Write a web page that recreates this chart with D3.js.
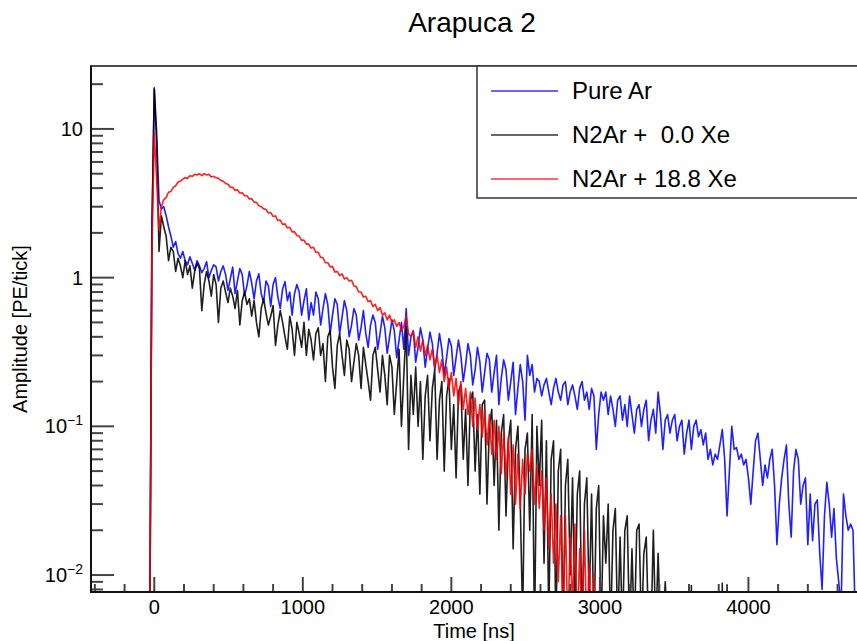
<!DOCTYPE html>
<html><head><meta charset="utf-8">
<script src="https://cdn.jsdelivr.net/npm/d3@7"></script>
<style>body{margin:0;background:#fff;} svg{display:block;font-family:"Liberation Sans",Arial,Helvetica,sans-serif;}</style>
</head><body><svg id="c" width="857" height="641"></svg>
<script>
// ---------------- DATA ----------------
const tStart = -48;      // time of first bin [ns]
const binWidth = 16;     // one tick = 16 ns

const pureAr = [
 0,0.002,2,18.9,9.5,3.3,2.9,3.0,2.6,2.2,1.9,1.6,1.75,1.45,1.35,1.5,
 1.3,1.22,1.38,1.25,1.12,1.3,1.2,1.08,1.15,1.28,1.0,1.12,1.22,1.18,0.95,1.1,
 1.2,1.05,0.82,0.98,1.18,0.78,0.95,1.15,1.05,0.76,0.88,1.1,0.92,0.72,0.95,1.06,
 0.78,0.68,0.95,0.88,0.64,0.9,1.0,0.74,0.62,0.84,0.94,0.7,0.8,0.56,0.78,0.9,
 0.8,0.56,0.7,0.84,0.52,0.68,0.56,0.8,0.72,0.48,0.62,0.78,0.66,0.42,0.56,0.72,
 0.66,0.42,0.54,0.7,0.6,0.4,0.48,0.62,0.56,0.38,0.46,0.6,0.42,0.34,0.48,0.56,
 0.5,0.33,0.42,0.55,0.46,0.31,0.4,0.52,0.44,0.29,0.38,0.5,0.33,0.62,0.3,0.4,
 0.44,0.27,0.34,0.46,0.38,0.25,0.33,0.43,0.36,0.24,0.31,0.42,0.33,0.22,0.29,0.39,
 0.35,0.22,0.29,0.38,0.3,0.2,0.26,0.36,0.3,0.19,0.24,0.34,0.27,0.17,0.23,0.31,
 0.28,0.17,0.23,0.3,0.14,0.21,0.28,0.24,0.15,0.2,0.27,0.12,0.18,0.26,0.2,0.11,
 0.3,0.22,0.26,0.17,0.21,0.2,0.16,0.19,0.21,0.17,0.14,0.18,0.21,0.17,0.15,0.19,
 0.2,0.14,0.17,0.19,0.16,0.13,0.18,0.2,0.15,0.17,0.13,0.18,0.16,0.07,0.12,0.17,
 0.15,0.17,0.12,0.16,0.13,0.1,0.15,0.16,0.11,0.14,0.1,0.16,0.12,0.09,0.13,0.14,
 0.1,0.13,0.15,0.08,0.11,0.13,0.09,0.17,0.12,0.07,0.11,0.12,0.09,0.11,0.12,0.08,
 0.1,0.11,0.065,0.09,0.11,0.07,0.1,0.11,0.085,0.095,0.075,0.09,0.06,0.07,0.055,0.065,
 0.06,0.075,0.095,0.06,0.025,0.05,0.1,0.07,0.072,0.06,0.065,0.055,0.06,0.045,0.03,0.05,
 0.08,0.09,0.06,0.04,0.055,0.045,0.06,0.07,0.04,0.016,0.03,0.045,0.06,0.075,0.03,0.018,
 0.05,0.07,0.06,0.03,0.04,0.045,0.016,0.035,0.017,0.03,0.032,0.014,0.008,0.025,0.042,0.03,
 0.018,0.028,0.013,0.009,0.006,0.035,0.025,0.02,0.022,0.02,0.005
];

const n2ar00Xe = [
 0,0.002,2,18.5,8,1.5,2.6,2.2,1.9,1.3,1.6,1.5,1.1,1.35,1.2,1.0,
 1.3,1.05,1.2,0.85,1.1,1.25,1.15,0.6,0.9,1.1,0.95,0.75,1.05,0.9,0.5,0.85,
 0.95,0.8,0.68,0.85,0.75,0.62,0.82,0.48,0.7,0.8,0.66,0.72,0.55,0.7,0.5,0.4,
 0.62,0.72,0.58,0.48,0.55,0.65,0.35,0.48,0.6,0.5,0.4,0.33,0.55,0.45,0.3,0.5,
 0.42,0.34,0.5,0.3,0.45,0.38,0.28,0.42,0.46,0.3,0.36,0.2,0.4,0.44,0.25,0.18,
 0.35,0.42,0.3,0.22,0.38,0.33,0.2,0.27,0.36,0.3,0.18,0.34,0.26,0.2,0.15,0.3,
 0.34,0.24,0.17,0.3,0.22,0.14,0.3,0.25,0.12,0.2,0.33,0.1,0.22,0.47,0.07,0.22,
 0.12,0.25,0.1,0.2,0.06,0.16,0.22,0.08,0.18,0.24,0.06,0.15,0.2,0.05,0.16,0.21,
 0.07,0.14,0.045,0.17,0.19,0.06,0.13,0.04,0.15,0.17,0.05,0.12,0.035,0.14,0.15,0.03,
 0.1,0.13,0.04,0.11,0.02,0.09,0.12,0.025,0.08,0.11,0.015,0.07,0.1,0.03,0.005,0.07,
 0.09,0.02,0.12,0.004,0.1,0.04,0.11,0.012,0.08,0.005,0.06,0.08,0.004,0.05,0.07,0.004,
 0.04,0.06,0.01,0.045,0.005,0.035,0.05,0.004,0.03,0.045,0.006,0.035,0.004,0.028,0.04,0.004,
 0.025,0.012,0.03,0.004,0.02,0.028,0.004,0.018,0.004,0.02,0.025,0.004,0.015,0.004,0.02,0.022,
 0.004,0.014,0.018,0.004,0.004,0.02,0.004,0.014,0.004,0.004,0.009,0.004,0,0,0,0,
 0,0,0,0,0,0.0085,0,0,0,0,0,0,0,0,0,0,
 0,0,0.0088,0,0.0086,0
];

const n2ar188Xe = [
 0,0.002,1.5,9.4,4.5,2.1,3.0,3.35,3.45,3.75,3.8,4.05,4.15,4.4,4.45,4.6,
 4.7,4.65,4.85,4.8,4.95,4.9,5.0,4.85,5.0,4.9,4.95,4.75,4.8,4.7,4.65,4.5,
 4.45,4.3,4.25,4.05,4.05,3.85,3.9,3.7,3.72,3.55,3.55,3.38,3.4,3.22,3.2,3.05,
 3.0,2.9,2.88,2.72,2.74,2.58,2.6,2.42,2.44,2.28,2.3,2.16,2.18,2.03,2.04,1.92,
 1.9,1.78,1.79,1.68,1.68,1.58,1.6,1.48,1.48,1.37,1.36,1.26,1.26,1.18,1.19,1.09,
 1.1,1.03,1.06,0.98,1.0,0.95,0.96,0.88,0.87,0.8,0.8,0.74,0.75,0.69,0.7,0.64,
 0.66,0.6,0.63,0.56,0.58,0.52,0.56,0.5,0.52,0.47,0.5,0.44,0.47,0.55,0.42,0.4,
 0.43,0.34,0.4,0.32,0.38,0.3,0.35,0.28,0.33,0.25,0.3,0.23,0.28,0.2,0.25,0.18,
 0.23,0.16,0.21,0.14,0.2,0.13,0.18,0.12,0.17,0.1,0.155,0.095,0.14,0.085,0.13,0.075,
 0.12,0.065,0.11,0.06,0.1,0.048,0.09,0.045,0.085,0.035,0.075,0.03,0.065,0.028,0.06,0.035,
 0.065,0.05,0.07,0.03,0.055,0.028,0.05,0.02,0.045,0.015,0.035,0.012,0.03,0.009,0.025,0.005,
 0.025,0.004,0.018,0.006,0.022,0.004,0.015,0.004,0.02,0.004,0.012,0.004,0.01,0.002,0,0
];

const seriesNames  = ["Pure Ar", "N2Ar +  0.0 Xe", "N2Ar + 18.8 Xe"];
const seriesData   = [pureAr, n2ar00Xe, n2ar188Xe];
const seriesColors = ["#0000ff", "#000000", "#ff0000"];

const xMajorTicks = [0, 1000, 2000, 3000, 4000];
const xTickLabels = ["0", "1000", "2000", "3000", "4000"];
const yMajorTicks = [0.01, 0.1, 1, 10];
const yTickBase   = ["10", "10", "1", "10"];
const yTickExp    = ["\u22122", "\u22121", "", ""];

const titleText = "Arapuca 2";
const xTitle = "Time [ns]";
const yTitle = "Amplitude [PE/tick]";

// ---------------- LAYOUT ----------------
const L = 91, R = 857, T = 66, B = 592;
const svg = d3.select("#c");
const x = d3.scaleLinear().domain([-426, 4731]).range([L, R]);
const y = d3.scaleLog().domain([0.00769, 26.5]).range([B, T]);

svg.append("defs").append("clipPath").attr("id","clip")
  .append("rect").attr("x",L).attr("y",T).attr("width",R-L).attr("height",B-T);

const line = d3.line()
  .x((d,i) => x(tStart + i*binWidth))
  .y(d => y(Math.max(d, 1e-4)));

const g = svg.append("g").attr("clip-path","url(#clip)");
seriesData.forEach((s,k) => {
  g.append("path").datum(s).attr("d", line)
    .attr("fill","none").attr("stroke",seriesColors[k])
    .attr("stroke-width",1.6).attr("stroke-opacity",0.88)
    .attr("stroke-linejoin","round");
});

// ticks
const tickCol = "#444";
const yMinor = [];
[0.001,0.01,0.1,1,10].forEach(d => { for (let m=2;m<=9;m++){ const v=m*d; if (v>y.domain()[0] && v<y.domain()[1]) yMinor.push(v);} });
svg.append("g").selectAll("line").data(yMinor).join("line")
  .attr("x1",L).attr("x2",L+12).attr("y1",d=>y(d)).attr("y2",d=>y(d))
  .attr("stroke",tickCol).attr("stroke-width",2);
svg.append("g").selectAll("line").data(yMajorTicks).join("line")
  .attr("x1",L).attr("x2",L+23).attr("y1",d=>y(d)).attr("y2",d=>y(d))
  .attr("stroke",tickCol).attr("stroke-width",2);
const xMinor = d3.range(-400, 4731, 200).filter(v => v % 1000 !== 0);
svg.append("g").selectAll("line").data(xMinor).join("line")
  .attr("x1",d=>x(d)).attr("x2",d=>x(d)).attr("y1",B).attr("y2",B-8)
  .attr("stroke",tickCol).attr("stroke-width",2);
svg.append("g").selectAll("line").data(xMajorTicks).join("line")
  .attr("x1",d=>x(d)).attr("x2",d=>x(d)).attr("y1",B).attr("y2",B-15)
  .attr("stroke",tickCol).attr("stroke-width",2);

// frame
svg.append("line").attr("x1",L).attr("x2",L).attr("y1",T).attr("y2",B+1).attr("stroke","#111").attr("stroke-width",2);
svg.append("line").attr("x1",L-1).attr("x2",R).attr("y1",B).attr("y2",B).attr("stroke","#111").attr("stroke-width",2);
svg.append("line").attr("x1",L-1).attr("x2",R).attr("y1",T).attr("y2",T).attr("stroke","#111").attr("stroke-width",1.5);

// tick labels
svg.append("g").selectAll("text").data(xMajorTicks).join("text")
  .attr("x",d=>x(d)).attr("y",614).attr("text-anchor","middle")
  .attr("font-size",20).attr("fill","#000").text((d,i)=>xTickLabels[i]);
const yl = svg.append("g").selectAll("text").data(yMajorTicks).join("text")
  .attr("x",83).attr("y",d=>y(d)+7).attr("text-anchor","end")
  .attr("font-size",20).attr("fill","#000");
yl.append("tspan").text((d,i)=>yTickBase[i]);
yl.append("tspan").attr("dy",-8).attr("font-size",14).text((d,i)=>yTickExp[i]);

// axis titles
svg.append("text").attr("x",(L+R)/2).attr("y",638).attr("text-anchor","middle")
  .attr("font-size",20).text(xTitle);
svg.append("text").attr("transform",`translate(27,${(T+B)/2}) rotate(-90)`)
  .attr("text-anchor","middle").attr("font-size",20).text(yTitle);

// title
svg.append("text").attr("x",472).attr("y",32).attr("text-anchor","middle")
  .attr("font-size",28).text(titleText);

// legend
const lg = svg.append("g");
lg.append("rect").attr("x",477).attr("y",T).attr("width",420).attr("height",132)
  .attr("fill","#fff").attr("stroke","#333").attr("stroke-width",1.5);
const rowY = d3.scalePoint().domain(seriesNames).range([91,179]);
seriesNames.forEach((n,k) => {
  lg.append("line").attr("x1",491).attr("x2",558).attr("y1",rowY(n)).attr("y2",rowY(n))
    .attr("stroke",seriesColors[k]).attr("stroke-width",2).attr("stroke-opacity",0.6);
  lg.append("text").attr("x",572).attr("y",rowY(n)).attr("dy","0.35em")
    .attr("font-size",24).style("white-space","pre").text(n);
});
</script></body></html>
